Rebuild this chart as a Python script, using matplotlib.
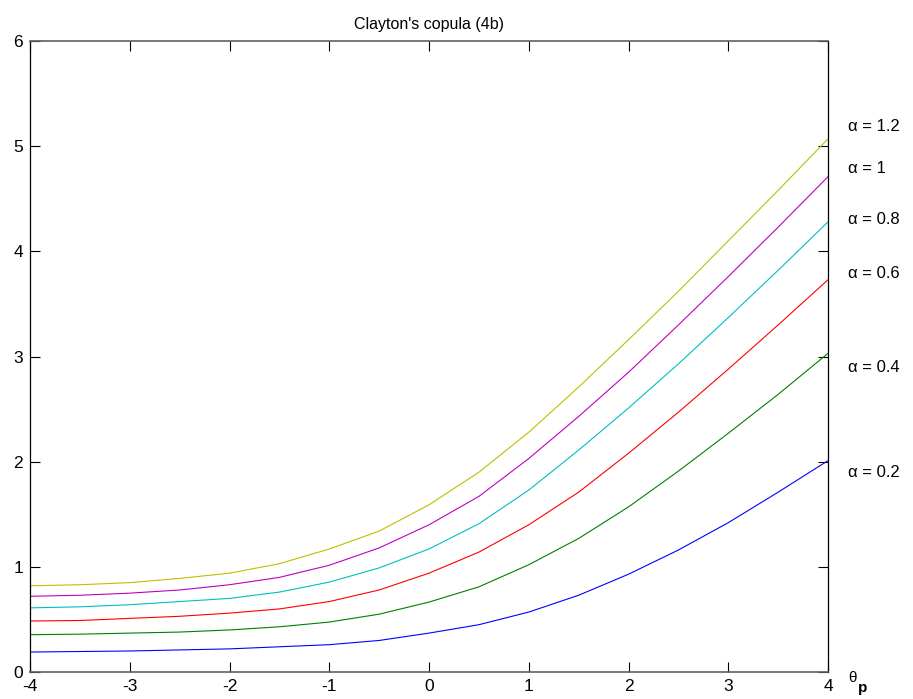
import numpy as np
import matplotlib
matplotlib.use("Agg")
import matplotlib.pyplot as plt

plt.rcParams["font.family"] = ["Liberation Sans", "DejaVu Sans"]
plt.rcParams["axes.unicode_minus"] = False

# theta_p grid (step 0.5) and curve values
theta_p = [-4.0, -3.5, -3.0, -2.5, -2.0, -1.5, -1.0, -0.5, 0.0,
           0.5, 1.0, 1.5, 2.0, 2.5, 3.0, 3.5, 4.0]

alpha_02 = [0.19, 0.195, 0.20, 0.21, 0.22, 0.24, 0.26, 0.30, 0.37,
            0.45, 0.57, 0.73, 0.93, 1.16, 1.42, 1.71, 2.01]
alpha_04 = [0.355, 0.36, 0.37, 0.38, 0.40, 0.43, 0.475, 0.55, 0.665,
            0.81, 1.02, 1.27, 1.57, 1.91, 2.27, 2.64, 3.03]
alpha_06 = [0.485, 0.49, 0.51, 0.53, 0.56, 0.60, 0.67, 0.78, 0.94,
            1.14, 1.40, 1.71, 2.08, 2.47, 2.88, 3.30, 3.73]
alpha_08 = [0.61, 0.62, 0.64, 0.67, 0.70, 0.76, 0.855, 0.99, 1.17,
            1.41, 1.73, 2.11, 2.51, 2.93, 3.37, 3.82, 4.28]
alpha_10 = [0.72, 0.73, 0.75, 0.78, 0.83, 0.90, 1.015, 1.18, 1.40,
            1.67, 2.03, 2.43, 2.85, 3.30, 3.76, 4.23, 4.71]
alpha_12 = [0.82, 0.83, 0.85, 0.89, 0.94, 1.03, 1.17, 1.34, 1.59,
            1.90, 2.28, 2.71, 3.16, 3.62, 4.10, 4.58, 5.07]

series = [alpha_02, alpha_04, alpha_06, alpha_08, alpha_10, alpha_12]
labels = ["\u03b1 = 0.2", "\u03b1 = 0.4", "\u03b1 = 0.6",
          "\u03b1 = 0.8", "\u03b1 = 1", "\u03b1 = 1.2"]
label_y = [1.90, 2.90, 3.79, 4.30, 4.79, 5.19]
colors = [(0, 0, 1), (0, 0.5, 0), (1, 0, 0),
          (0, 0.75, 0.75), (0.75, 0, 0.75), (0.75, 0.75, 0)]

fig = plt.figure(figsize=(9.13, 6.99), dpi=100)
ax = fig.add_axes([0.0329, 0.0386, 0.874, 0.9027])

for vals, col in zip(series, colors):
    ax.plot(theta_p, vals, color=col, linewidth=0.8)

for lab, ly in zip(labels, label_y):
    ax.text(4.2, ly, lab, fontsize=12, va="center", ha="left", clip_on=False)

# x axis label: theta with a bold subscript p, MATLAB style
ax.text(4.2, -0.06, "\u03b8", fontsize=11, va="center", ha="left", clip_on=False)
ax.text(4.3, -0.15, "p", fontsize=11, fontweight="bold", va="center", ha="left",
        clip_on=False)

ax.set_xlim(-4, 4)
ax.set_ylim(0, 6)
ax.set_xticks(np.arange(-4, 5, 1))
ax.set_yticks(np.arange(0, 7, 1))
ax.tick_params(direction="in", length=7, width=0.8, top=True, right=True,
               labelsize=12.5, pad=5)
for side in ["top", "bottom"]:
    ax.spines[side].set_color("#606060")
    ax.spines[side].set_linewidth(1.2)
for side in ["left", "right"]:
    ax.spines[side].set_linewidth(0.9)
ax.set_title("Clayton's copula (4b)", fontsize=11.5, pad=9)

fig.savefig("out.png", dpi=100)
